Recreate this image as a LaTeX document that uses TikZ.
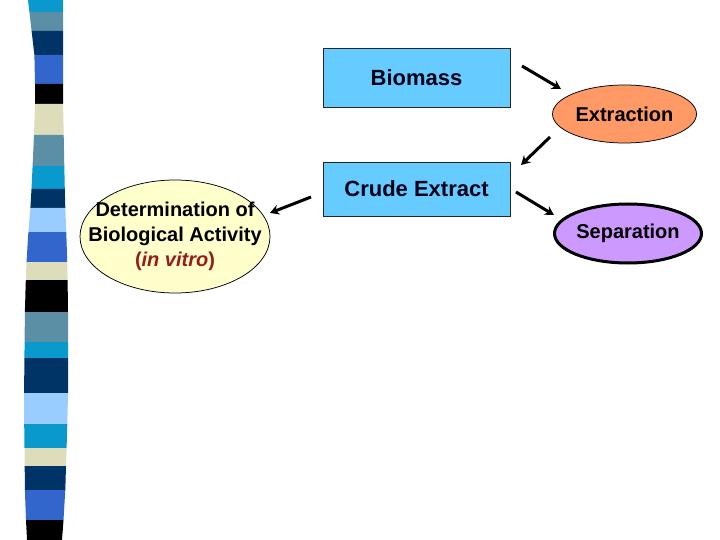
\documentclass[tikz,border=0pt]{standalone}
\usepackage{fontspec}
\setmainfont{Liberation Sans}
\usetikzlibrary{shapes.geometric,arrows.meta}
\definecolor{cyanB}{HTML}{0A99CC}
\definecolor{steelB}{HTML}{5B8FA6}
\definecolor{navyB}{HTML}{003366}
\definecolor{royalB}{HTML}{3366CC}
\definecolor{beigeB}{HTML}{DDDDBB}
\definecolor{lightB}{HTML}{99CCFF}
\definecolor{boxfill}{HTML}{66CCFF}
\definecolor{orangefill}{HTML}{FF9966}
\definecolor{lilacfill}{HTML}{CC99FF}
\definecolor{creamfill}{HTML}{FFFFCC}
\definecolor{vitrored}{HTML}{991A1A}
\tikzset{
  boxnode/.style={rectangle, draw=black!85, line width=0.75pt, fill=boxfill, inner sep=0pt,
    font=\bfseries\fontsize{22}{26}\selectfont, text=black!90!blue},
  ovalnode/.style={ellipse, draw=black, line width=0.75pt, inner sep=0pt,
    font=\bfseries\fontsize{20}{24}\selectfont},
  arr/.style={line width=3pt, -{Stealth[length=9pt,width=10pt]}},
}
\begin{document}
\begin{tikzpicture}[x=1pt,y=-1pt]
\useasboundingbox[fill=white] (0,0) rectangle (720,540);
% decorative strip
\fill[cyanB]  (28,0) -- (63,0) -- (63,12) -- (29.4,12) -- cycle;
\fill[steelB] (29.4,12) -- (63,12) -- (63,31) -- (31.6,31) -- cycle;
\fill[navyB]  (31.6,31) -- (63,31) -- (63,55) -- (34.4,55) -- cycle;
\fill[royalB] (34.4,55) -- (63,55) -- (63,84) -- (35,84) -- cycle;
\fill[black]  (35,84) -- (63,84) -- (63.1,104) -- (35,104) -- cycle;
\fill[beigeB] (35,104) -- (63.1,104) -- (63.7,135) -- (34,135) -- cycle;
\fill[steelB] (34,135) -- (63.7,135) -- (64.3,166) -- (32.6,166) -- cycle;
\fill[cyanB]  (32.6,166) -- (64.3,166) -- (64.8,189) -- (31.5,189) -- cycle;
\fill[navyB]  (31.5,189) -- (64.8,189) -- (65.3,208) -- (30.4,208) -- cycle;
\fill[lightB] (30.4,208) -- (65.3,208) -- (66.3,232) -- (28.4,232) -- cycle;
\fill[royalB] (28.4,232) -- (66.3,232) -- (67.2,262) -- (26.5,262) -- cycle;
\fill[beigeB] (26.5,262) -- (67.2,262) -- (67.6,280) -- (25.8,280) -- cycle;
\fill[black]  (25.8,280) -- (67.6,280) -- (68,312) -- (24.9,312) -- cycle;
\fill[steelB] (24.9,312) -- (68,312) -- (68,342) -- (24.6,342) -- cycle;
\fill[cyanB]  (24.6,342) -- (68,342) -- (68,358) -- (24.4,358) -- cycle;
\fill[navyB]  (24.4,358) -- (68,358) -- (68,393) -- (24.1,393) -- cycle;
\fill[lightB] (24.1,393) -- (68,393) -- (67.3,424) -- (24.2,424) -- cycle;
\fill[cyanB]  (24.2,424) -- (67.3,424) -- (66.6,448) -- (24.5,448) -- cycle;
\fill[beigeB] (24.5,448) -- (66.6,448) -- (66,466) -- (24.7,466) -- cycle;
\fill[navyB]  (24.7,466) -- (66,466) -- (65.3,490) -- (24.9,490) -- cycle;
\fill[royalB] (24.9,490) -- (65.3,490) -- (63.5,520) -- (26,520) -- cycle;
\fill[black]  (26,520) -- (63.5,520) -- (62,540) -- (27,540) -- cycle;

% nodes
\node[boxnode, minimum width=187pt, minimum height=59pt] (biomass) at (416.5,77.5) {Biomass};
\node[boxnode, minimum width=187pt, minimum height=54pt] (crude) at (416.5,189) {Crude Extract};
\node[ovalnode, fill=orangefill, inner xsep=-10pt, minimum width=144pt, minimum height=58pt] (extraction) at (624.5,114) {Extraction};
\node[ovalnode, fill=lilacfill, line width=3pt, inner xsep=-10pt, minimum width=147pt, minimum height=59pt] (separation) at (628,233.5) {Separation};
\node[ovalnode, fill=creamfill, inner xsep=-20pt, minimum width=190pt, minimum height=113pt, align=center,
      font=\bfseries\fontsize{20}{25}\selectfont] (determination) at (175,236.5)
  {Determination of\\Biological Activity\\{\color{vitrored}(\textit{in vitro})}};

% arrow end points
\coordinate (a1s) at (522,66);  \coordinate (a1e) at (561,89);
\coordinate (a2s) at (550,137); \coordinate (a2e) at (521,165);
\coordinate (a3s) at (516,192); \coordinate (a3e) at (554,215);
\coordinate (a4s) at (311,197); \coordinate (a4e) at (270,213);

\draw[arr] (a1s) -- (a1e);
\draw[arr] (a2s) -- (a2e);
\draw[arr] (a3s) -- (a3e);
\draw[arr] (a4s) -- (a4e);
\end{tikzpicture}
\end{document}
